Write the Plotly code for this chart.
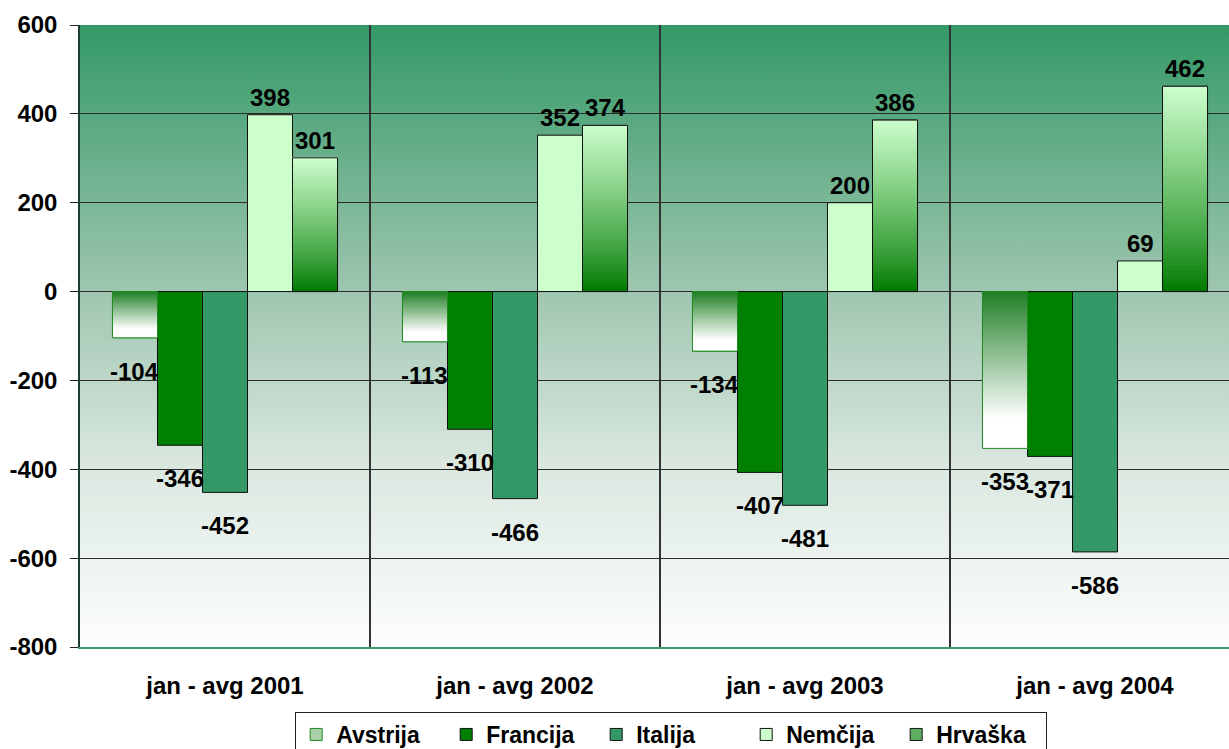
import base64
import plotly.graph_objects as go

# ---------------- data ----------------
categories = ["jan - avg 2001", "jan - avg 2002", "jan - avg 2003", "jan - avg 2004"]
avstrija = [-104, -113, -134, -353]
francija = [-346, -310, -407, -371]
italija = [-452, -466, -481, -586]
nemcija = [398, 352, 200, 69]
hrvaska = [301, 374, 386, 462]

series_names = ["Avstrija", "Francija", "Italija", "Nemčija", "Hrvaška"]
series_values = [avstrija, francija, italija, nemcija, hrvaska]
y_ticks = [600, 400, 200, 0, -200, -400, -600, -800]

# ---------------- styles ----------------
FONT = "Liberation Sans, Arial, sans-serif"
BARGAP = 0.224
solid_fill = {"Avstrija": "#a9d0a9", "Francija": "#008000", "Italija": "#339966",
              "Nemčija": "#ccffcc", "Hrvaška": "#5fae5f"}
line_col = {"Avstrija": "#1f8a1f", "Francija": "#111111", "Italija": "#111111",
            "Nemčija": "#111111", "Hrvaška": "#111111"}
N_SEG = 48


def lerp(c1, c2, t):
    t = max(0.0, min(1.0, t))
    return "rgb(%d,%d,%d)" % tuple(round(a + (b - a) * t) for a, b in zip(c1, c2))


def avstrija_color(t):  # t: 0 at zero line, 1 at bar end
    return lerp((34, 128, 40), (255, 255, 255), t / 0.8)


def hrvaska_color(t):  # t: 0 at zero line (bottom), 1 at top
    return lerp((0, 122, 0), (206, 255, 206), t ** 0.85)


gradient_fn = {"Avstrija": avstrija_color, "Hrvaška": hrvaska_color}

fig = go.Figure()

# main (legend) traces
for rank, (name, vals) in enumerate(zip(series_names, series_values)):
    fig.add_trace(go.Bar(
        x=categories, y=vals, name=name, offsetgroup=name, legendrank=rank + 1,
        marker=dict(color=solid_fill[name], line=dict(color=line_col[name], width=1)),
        hoverinfo="skip",
    ))

# gradient overlays for Avstrija / Hrvaška, then outline on top
for name, vals in zip(series_names, series_values):
    if name not in gradient_fn:
        continue
    xs, bases, ys, cols = [], [], [], []
    for cat, v in zip(categories, vals):
        for i in range(N_SEG):
            xs.append(cat)
            bases.append(v * i / N_SEG)
            ys.append(v - v * i / N_SEG)
            cols.append(gradient_fn[name](i / N_SEG))
    fig.add_trace(go.Bar(
        x=xs, y=ys, base=bases, offsetgroup=name, showlegend=False,
        marker=dict(color=cols, line=dict(width=0)), hoverinfo="skip",
    ))
    fig.add_trace(go.Bar(
        x=categories, y=vals, offsetgroup=name, showlegend=False,
        marker=dict(color="rgba(0,0,0,0)", line=dict(color=line_col[name], width=1)),
        hoverinfo="skip",
    ))

# value labels
n_series = len(series_names)
slot = (1 - BARGAP) / n_series
annotations = []
for j, vals in enumerate(series_values):
    for k, v in enumerate(vals):
        xpos = k - (1 - BARGAP) / 2 + (j + 0.5) * slot
        annotations.append(dict(
            x=xpos, y=v, xref="x", yref="y", text=str(v), showarrow=False,
            yanchor="bottom" if v >= 0 else "top",
            yshift=2 if v >= 0 else -18,
            font=dict(family=FONT, size=24, color="#000000", weight="bold"),
        ))

# gradient background of the plot area
svg = ('<svg xmlns="http://www.w3.org/2000/svg" width="100" height="100" preserveAspectRatio="none">'
       '<defs><linearGradient id="g" x1="0" y1="0" x2="0" y2="1">'
       '<stop offset="0" stop-color="#339966"/>'
       '<stop offset="0.43" stop-color="#9fc6b0"/>'
       '<stop offset="0.7" stop-color="#d9e7df"/>'
       '<stop offset="1" stop-color="#fdfefd"/>'
       '</linearGradient></defs><rect width="100" height="100" fill="url(#g)"/></svg>')
bg_uri = "data:image/svg+xml;base64," + base64.b64encode(svg.encode()).decode()

# the source chart's plot area runs slightly past the right edge of the picture
fig.update_layout(
    width=1240, height=749,
    margin=dict(l=80, r=0, t=25, b=102, autoexpand=False),
    paper_bgcolor="#ffffff", plot_bgcolor="rgba(0,0,0,0)",
    barmode="group", bargap=BARGAP, bargroupgap=0,
    font=dict(family=FONT, size=22, color="#000000"),
    images=[dict(source=bg_uri, xref="paper", yref="paper", x=0, y=1, sizex=1, sizey=1,
                 xanchor="left", yanchor="top", sizing="stretch", layer="below")],
    annotations=annotations,
    legend=dict(
        orientation="h", x=0.1855, y=-0.1045, xanchor="left", yanchor="top",
        bgcolor="#ffffff", bordercolor="#222222", borderwidth=1,
        font=dict(family=FONT, size=23, color="#000000", weight="bold"),
        entrywidth=105, entrywidthmode="pixels", traceorder="normal",
    ),
    showlegend=True,
)

fig.update_yaxes(
    range=[-800, 600], tickvals=y_ticks, ticktext=[str(t) for t in y_ticks],
    automargin=False,
    showgrid=True, gridcolor="#2b2b2b", gridwidth=1.2,
    zeroline=True, zerolinecolor="#2b2b2b", zerolinewidth=1.2,
    showline=True, linecolor="#1d3d2d", linewidth=1.5,
    ticks="outside", ticklen=8, tickcolor="#222222", tickwidth=1,
    tickfont=dict(family=FONT, size=24, color="#000000", weight="bold"),
    ticklabelstandoff=8,
)
fig.update_xaxes(
    type="category", tickson="boundaries", ticks="", automargin=False,
    showgrid=True, gridcolor="#333333", gridwidth=1.5,
    showline=True, linecolor="#3a9a6a", linewidth=2,
    tickfont=dict(family=FONT, size=24, color="#000000", weight="bold"),
    ticklabelstandoff=16,
)

fig.write_html(
    "out.html",
    config={"displayModeBar": False},
    post_script="document.body.style.margin='0';document.body.style.overflow='hidden';",
)
